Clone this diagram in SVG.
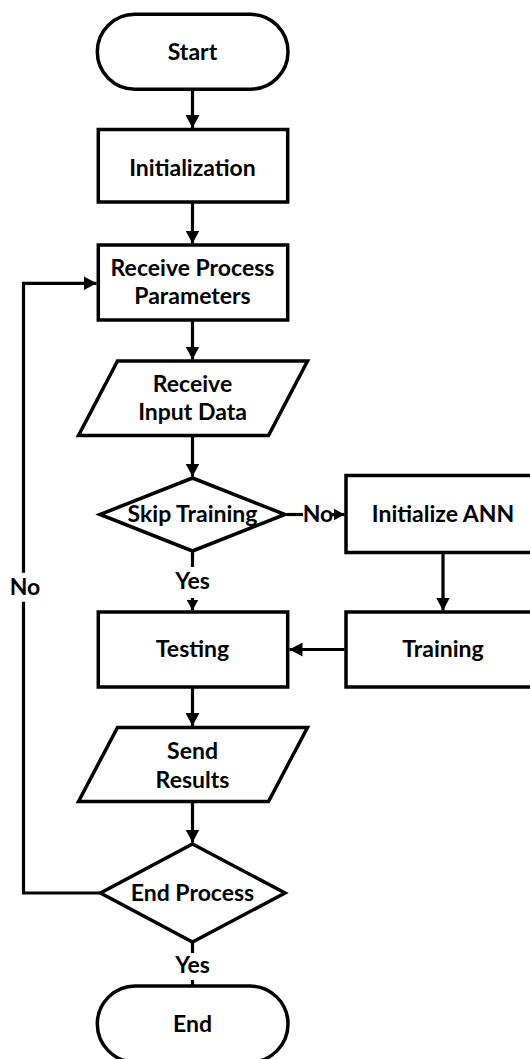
<svg xmlns="http://www.w3.org/2000/svg" width="530" height="1059" viewBox="0 0 530 1059">
<style>
.s{fill:#fff;stroke:#000;stroke-width:3.5;stroke-linejoin:miter}
.c{fill:none;stroke:#000;stroke-width:3.2}
.t{font-family:Lato,"Liberation Sans",sans-serif;font-weight:bold;font-size:23px;fill:#000;text-anchor:middle}
</style>
<defs>
<marker id="ah" markerUnits="userSpaceOnUse" markerWidth="14" markerHeight="14" refX="13" refY="7" orient="auto"><path d="M0,0 L13,7 L0,14 Z" fill="#000"/></marker>
<marker id="ahs" markerUnits="userSpaceOnUse" markerWidth="12" markerHeight="12" refX="11" refY="6" orient="auto"><path d="M0,0 L11,6 L0,12 Z" fill="#000"/></marker>
</defs>
<g id="connectors">
<line class="c" x1="192.5" y1="90" x2="192.5" y2="128" marker-end="url(#ah)"/>
<line class="c" x1="192.5" y1="203" x2="192.5" y2="243.5" marker-end="url(#ah)"/>
<line class="c" x1="192.5" y1="321" x2="192.5" y2="359.5" marker-end="url(#ah)"/>
<line class="c" x1="192.5" y1="436" x2="192.5" y2="476.5" marker-end="url(#ah)"/>
<line class="c" x1="192.5" y1="552" x2="192.5" y2="567"/>
<line class="c" x1="192.5" y1="598" x2="192.5" y2="610.5" marker-end="url(#ahs)"/>
<line class="c" x1="287" y1="514.5" x2="303" y2="514.5"/>
<line class="c" x1="332" y1="514.5" x2="344.5" y2="514.5" marker-end="url(#ahs)"/>
<line class="c" x1="443" y1="553.5" x2="443" y2="610.5" marker-end="url(#ah)"/>
<line class="c" x1="344.5" y1="649.5" x2="289.5" y2="649.5" marker-end="url(#ah)"/>
<line class="c" x1="192.5" y1="688" x2="192.5" y2="726" marker-end="url(#ah)"/>
<line class="c" x1="192.5" y1="802.5" x2="192.5" y2="842.5" marker-end="url(#ah)"/>
<line class="c" x1="192.5" y1="943" x2="192.5" y2="953"/>
<line class="c" x1="192.5" y1="980" x2="192.5" y2="985"/>
<polyline class="c" points="100.5,893 23.5,893 23.5,601.7"/>
<polyline class="c" points="23.5,572.7 23.5,283.3 96.5,283.3" marker-end="url(#ah)"/>
<text class="t" x="318" y="521.7">No</text>
<text class="t" x="192.5" y="589">Yes</text>
<text class="t" x="25" y="595">No</text>
<text class="t" x="192.5" y="972.7">Yes</text>
</g>
<g id="start"><rect class="s" x="97.3" y="14.3" width="190.7" height="74.9" rx="37.5"/><text class="t" x="192.5" y="60">Start</text></g>
<g id="init"><rect class="s" x="98.3" y="129.5" width="189.4" height="72.5"/><text class="t" x="192.5" y="175.7">Initialization</text></g>
<g id="recvparams"><rect class="s" x="98.3" y="245" width="189.4" height="75"/><text class="t" x="192.5" y="276">Receive Process</text><text class="t" x="192.5" y="304.3">Parameters</text></g>
<g id="recvinput"><polygon class="s" points="117.5,361 307.5,361 268.5,435.5 78.5,435.5"/><text class="t" x="192.5" y="391.7">Receive</text><text class="t" x="192.5" y="420">Input Data</text></g>
<g id="skip"><polygon class="s" points="192.5,478 285,514.5 192.5,551 100,514.5"/><text class="t" x="192.5" y="521.7">Skip Training</text></g>
<g id="initann"><rect class="s" x="346" y="475.5" width="200" height="77"/><text class="t" x="443" y="521.7">Initialize ANN</text></g>
<g id="training"><rect class="s" x="346" y="612" width="200" height="75"/><text class="t" x="443" y="657.3">Training</text></g>
<g id="testing"><rect class="s" x="98.3" y="612" width="189.4" height="75"/><text class="t" x="192.5" y="657.3">Testing</text></g>
<g id="send"><polygon class="s" points="117.5,727.5 307.5,727.5 268.5,801.5 78.5,801.5"/><text class="t" x="192.5" y="759.3">Send</text><text class="t" x="192.5" y="788.3">Results</text></g>
<g id="endprocess"><polygon class="s" points="192.5,844 285,893 192.5,942 100.5,893"/><text class="t" x="192.5" y="900.7">End Process</text></g>
<g id="end"><rect class="s" x="97.3" y="986" width="190.7" height="76" rx="38"/><text class="t" x="192.5" y="1031.7">End</text></g>
</svg>
